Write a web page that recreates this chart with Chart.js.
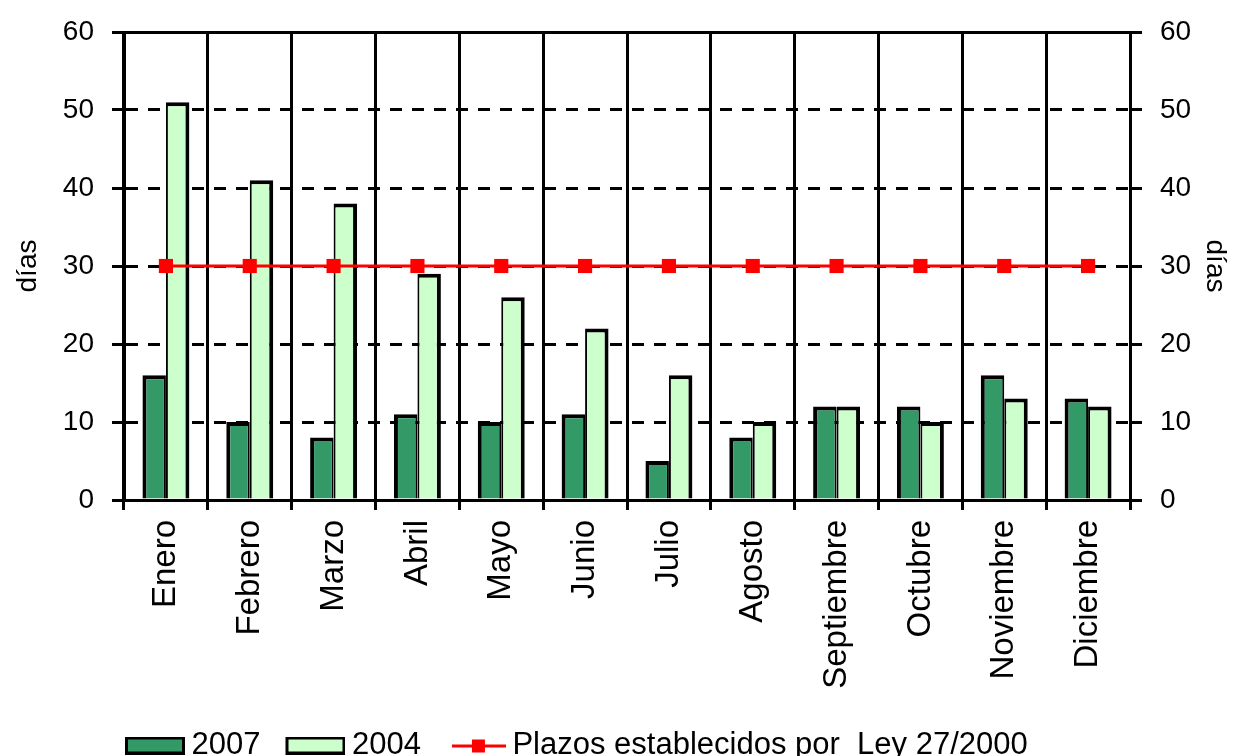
<!DOCTYPE html>
<html>
<head>
<meta charset="utf-8">
<script src="https://cdn.jsdelivr.net/npm/chart.js@4.4.1/dist/chart.umd.min.js"></script>
<style>
  html, body { margin: 0; padding: 0; background: #fff; }
</style>
</head>
<body>
<canvas id="grafico" width="1233" height="756"></canvas>
<script>
// datos
const meses = ['Enero', 'Febrero', 'Marzo', 'Abril', 'Mayo', 'Junio', 'Julio', 'Agosto', 'Septiembre', 'Octubre', 'Noviembre', 'Diciembre'];
const dias2007 = [16, 10, 8, 11, 10, 11, 5, 8, 12, 12, 16, 13];
const dias2004 = [51, 41, 38, 29, 26, 22, 16, 10, 12, 10, 13, 12];
const plazoLey = [30, 30, 30, 30, 30, 30, 30, 30, 30, 30, 30, 30];
const marcasDias = [0, 10, 20, 30, 40, 50, 60];

const verdeOscuro = '#339966';
const verdeClaro = '#CCFFCC';
const rojo = '#FF0000';
const fuente = "'Liberation Sans', Arial, sans-serif";

// muestras de la leyenda: el lienzo es más ancho que la muestra para que
// el hueco quede antes de cada elemento y no entre muestra y texto
function muestraCaja(color) {
    const c = document.createElement('canvas');
    c.width = 90; c.height = 18;
    const g = c.getContext('2d');
    g.fillStyle = '#000'; g.fillRect(30, 0, 60, 18);
    g.fillStyle = color; g.fillRect(33, 3, 54, 12);
    return c;
}
function muestraLinea() {
    const c = document.createElement('canvas');
    c.width = 90; c.height = 18;
    const g = c.getContext('2d');
    g.fillStyle = rojo;
    g.fillRect(36, 8, 54, 3);
    g.fillRect(56, 3, 13, 13);
    return c;
}
const muestras = [muestraCaja(verdeOscuro), muestraCaja(verdeClaro), muestraLinea()];

const ejeY = (posicion, conRejilla) => ({
    position: posicion,
    min: 0, max: 60,
    afterBuildTicks: s => { s.ticks = marcasDias.map(v => ({ value: v })); },
    afterFit: s => { s.width = posicion === 'left' ? 124 : 103; },
    border: { display: true, color: '#000', width: 3, dash: [12, 10] },
    grid: { display: true, drawOnChartArea: conRejilla, color: '#000', lineWidth: 3, tickLength: 12, tickColor: '#000', tickWidth: 3 },
    ticks: { color: '#000', font: { family: fuente, size: 28, lineHeight: 1 }, padding: 18 },
    title: { display: true, text: 'días', color: '#000', font: { family: fuente, size: 28 },
             padding: { top: posicion === 'left' ? 11 : 1, bottom: 0 } }
});

// coloca la leyenda alineada con el eje izquierdo y pegada al borde inferior, como en el original
const moverLeyenda = {
    id: 'moverLeyenda',
    afterLayout(chart) {
        chart.legend.left = 100;
        chart.legend.top += 15;
        chart.legend.bottom += 15;
    }
};

new Chart(document.getElementById('grafico'), {
    data: {
        labels: meses,
        datasets: [
            { type: 'bar', label: '2007', data: dias2007, backgroundColor: verdeOscuro, borderColor: '#000',
              borderWidth: { top: 4, left: 4, right: 2, bottom: 0 }, order: 2, yAxisID: 'y' },
            { type: 'bar', label: '2004', data: dias2004, backgroundColor: verdeClaro, borderColor: '#000',
              borderWidth: { top: 4, left: 2, right: 4, bottom: 0 }, order: 2, yAxisID: 'y' },
            { type: 'line', label: 'Plazos establecidos por  Ley 27/2000', data: plazoLey, borderColor: rojo, backgroundColor: rojo, borderWidth: 3,
              pointStyle: 'rect', pointRadius: 10, pointBackgroundColor: rojo, pointBorderWidth: 0, order: 1, yAxisID: 'y' }
        ]
    },
    plugins: [moverLeyenda],
    options: {
        responsive: false,
        animation: false,
        layout: { padding: { left: 0, right: 0, top: 0, bottom: 0 } },
        datasets: { bar: { categoryPercentage: 0.56, barPercentage: 1, borderSkipped: false } },
        plugins: {
            tooltip: { enabled: false },
            legend: {
                position: 'bottom',
                align: 'start',
                labels: {
                    usePointStyle: true,
                    pointStyleWidth: 72,
                    boxHeight: 18,
                    padding: 4,
                    color: '#000',
                    font: { family: fuente, size: 31 },
                    generateLabels: chart => chart.data.datasets.map((ds, i) => ({
                        text: ds.label, pointStyle: muestras[i], datasetIndex: i,
                        fillStyle: ds.backgroundColor, strokeStyle: ds.borderColor, lineWidth: 0, fontColor: '#000'
                    }))
                }
            }
        },
        scales: {
            x: {
                position: 'bottom',
                afterFit: s => { s.height = 211; },
                border: { display: true, color: '#000', width: 3 },
                grid: { offset: true, color: '#000', lineWidth: 3, tickLength: 10, tickColor: '#000', tickWidth: 3 },
                ticks: { color: '#000', font: { family: fuente, size: 33 }, maxRotation: 90, minRotation: 90, padding: 10 }
            },
            xArriba: {
                position: 'top',
                type: 'category',
                afterFit: s => { s.height = 22; },
                border: { display: true, color: '#000', width: 3 },
                grid: { display: false },
                ticks: { display: false }
            },
            y: ejeY('left', true),
            y2: ejeY('right', false)
        }
    }
});
</script>
</body>
</html>
